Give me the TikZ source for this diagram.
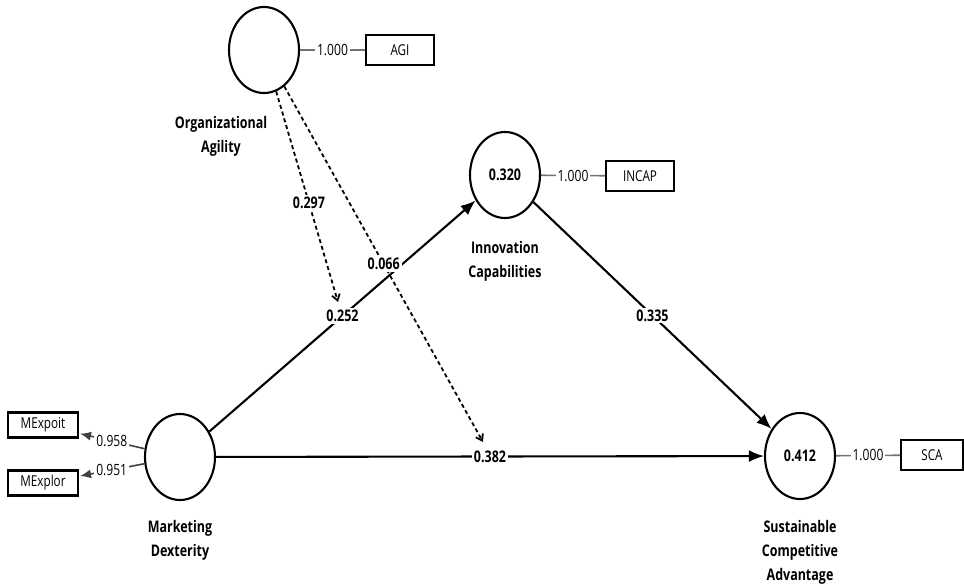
\documentclass[tikz,border=0pt]{standalone}
\usepackage{fontspec}
\setmainfont{Open Sans}[FakeStretch=0.78]
\usetikzlibrary{positioning,arrows.meta,shapes.geometric}

\begin{document}
\begin{tikzpicture}[x=1pt,y=-1pt,>={Latex[length=15pt,width=12pt]},
                    font=\fontsize{16}{24}\selectfont]
  \tikzstyle{latent}=[draw,ellipse,line width=2.1pt,minimum width=70pt,
                      minimum height=86pt,inner sep=0pt,font=\fontsize{16}{24}\selectfont\bfseries]
  \tikzstyle{indicator}=[draw,rectangle,line width=2.1pt,minimum width=68pt,
                         minimum height=30pt,inner sep=2pt,font=\fontsize{15}{18}\selectfont]
  \tikzstyle{construct}=[align=center,inner sep=0pt,font=\fontsize{16}{24}\selectfont\bfseries]
  \tikzstyle{path}=[->,line width=2.1pt]
  \tikzstyle{moderation}=[-{Straight Barb[length=6pt,width=8pt]},line width=1.8pt,
                          dash pattern=on 4pt off 3pt]
  \tikzstyle{coef}=[fill=white,inner sep=2pt,font=\fontsize{16}{18}\selectfont\bfseries]
  \tikzstyle{loading}=[draw=black!55,line width=1.6pt]
  \tikzstyle{load}=[fill=white,inner sep=2pt,font=\fontsize{15.5}{18}\selectfont]

  \useasboundingbox (0,0) rectangle (964,586);

  % constructs
  \node[latent] (OA)  at (264,50)  {};
  \node[latent] (IC)  at (505,175) {0.320};
  \node[latent] (MD)  at (180,457) {};
  \node[latent] (SCA) at (800,456) {0.412};

  \node[construct] (OAlab)  [below=22pt of OA, xshift=-43pt] {Organizational\\Agility};
  \node[construct] (IClab)  [below=22pt of IC]  {Innovation\\Capabilities};
  \node[construct] (MDlab)  [below=19pt of MD]  {Marketing\\Dexterity};
  \node[construct] (SCAlab) [below=20pt of SCA] {Sustainable\\Competitive\\Advantage};

  % indicators
  \node[indicator] (AGI)   at (400,50)  {AGI};
  \node[indicator] (INCAP) at (640,176) {INCAP};
  \node[indicator, minimum width=62pt] (SCAi) at (932,455) {SCA};
  \node[indicator, minimum width=70pt, minimum height=25pt] (MExpoit) at (43,425) {MExpoit};
  \node[indicator, minimum width=70pt, minimum height=25pt] (MExplor) at (43,483) {MExplor};

  \coordinate (t1) at (338,302);
  \coordinate (t2) at (483,442);

  % outer model
  \path (OA)  edge[loading] node[load] {1.000} (AGI)
        (IC)  edge[loading] node[load] {1.000} (INCAP)
        (SCA) edge[loading] node[load] {1.000} (SCAi);
  \path (MD) edge[loading, draw=black!75, -{Latex[length=11pt,width=9pt]}, shorten >=1pt]
                  node[load] {0.958} (MExpoit)
             edge[loading, draw=black!75, -{Latex[length=11pt,width=9pt]}, shorten >=1pt]
                  node[load] {0.951} (MExplor);

  % inner model
  \path (MD) edge[path] node[coef] {0.252} (IC)
             edge[path] node[coef] {0.382} (SCA)
        (IC) edge[path] node[coef] {0.335} (SCA);

  % moderating effects
  \path (OA) edge[moderation] node[coef, pos=0.53] {0.297} (t1)
             edge[moderation] node[coef, pos=0.5]  {0.066} (t2);
\end{tikzpicture}
\end{document}
